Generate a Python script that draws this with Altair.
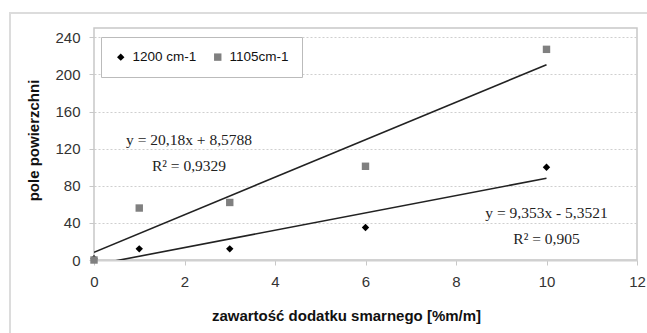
import altair as alt
import pandas as pd

# ---- data ----
x_vals = [0, 1, 3, 6, 10]
y_1200 = [1.3, 12, 12, 35, 100]
y_1105 = [0, 56, 62, 101, 227]
series = ["1200 cm-1", "1105cm-1"]

x_ticks = [0, 2, 4, 6, 8, 10, 12]
y_ticks = [0, 40, 80, 120, 160, 200, 240]

eq_text = ["y = 20,18x + 8,5788", "R² = 0,9329", "y = 9,353x - 5,3521", "R² = 0,905"]
eq_x = [2.1, 2.1, 10.0, 10.0]
eq_y = [129, 101, 51, 23]

rows = []
for name, ys in zip(series, [y_1200, y_1105]):
    for xv, yv in zip(x_vals, ys):
        rows.append({"x": xv, "y": yv, "series": name})
df = pd.DataFrame(rows)
ann = pd.DataFrame({"text": eq_text, "x": eq_x, "y": eq_y})

xscale = alt.Scale(domain=[0, 12], nice=False, zero=False)
yscale = alt.Scale(domain=[0, 250], nice=False)

xenc = alt.X("x:Q", scale=xscale, title="zawartość dodatku smarnego [%m/m]",
             axis=alt.Axis(values=x_ticks, grid=False, tickSize=5, tickColor="#c8c8c8",
                           domainColor="#d0d0d0", domainWidth=2, labelPadding=9,
                           titlePadding=19, titleX=252, titleAlign="center",
                           labelFontSize=15, labelColor="#333333",
                           labelOverlap=False, labelFlush=False,
                           titleFontSize=15, titleFontWeight="bold", titleColor="#111111",
                           labelFont="Liberation Sans", titleFont="Liberation Sans"))
yenc = alt.Y("y:Q", scale=yscale, title="pole powierzchni",
             axis=alt.Axis(values=y_ticks, grid=True, gridColor="#cfcfcf", gridDash=[2, 2],
                           tickSize=5, tickColor="#c8c8c8", domain=False, labelPadding=9,
                           titlePadding=13, titleY=112, titleAlign="center",
                           labelFontSize=15, labelColor="#333333",
                           labelOverlap=False, labelFlush=False,
                           titleFontSize=15, titleFontWeight="bold", titleColor="#111111",
                           labelFont="Liberation Sans", titleFont="Liberation Sans"))

frame = alt.Chart(pd.DataFrame({"d": [0]})).mark_rect(
    fillOpacity=0, stroke="#dcdcdc", strokeWidth=2
).encode(x=alt.value(-84), x2=alt.value(570), y=alt.value(-15), y2=alt.value(320))

lines = alt.Chart(df).transform_regression(
    "x", "y", groupby=["series"], extent=[0, 10]
).mark_line(color="#222222", strokeWidth=1.6, clip=True).encode(
    x=xenc, y=yenc, detail="series:N"
)

legend = alt.Legend(title=None, orient="none", legendX=7, legendY=9,
                    direction="horizontal", strokeColor="#bbbbbb",
                    fillColor="white", padding=13, columnPadding=14,
                    labelFontSize=13.5, labelFont="Liberation Sans",
                    labelColor="#111111", symbolSize=55, labelOffset=5)

points = alt.Chart(df).mark_point(filled=True, size=55, opacity=1).encode(
    x=xenc, y=yenc,
    shape=alt.Shape("series:N", scale=alt.Scale(domain=series, range=["diamond", "square"]),
                    legend=legend),
    color=alt.Color("series:N", scale=alt.Scale(domain=series, range=["#000000", "#808080"]),
                    legend=legend),
    order=alt.Order("series:N", sort="descending"),
)

texts = alt.Chart(ann).mark_text(font="Liberation Serif", fontSize=15.5, color="#222222",
                                 align="center", baseline="middle").encode(
    x=xenc, y=yenc, text="text:N"
)

chart = alt.layer(frame, lines, points, texts).properties(
    width=543, height=232,
    padding={"left": 94, "top": 28, "right": 10, "bottom": 73},
    autosize=alt.AutoSizeParams(type="none"),
    background="white",
).configure_view(stroke="#c8c8c8", strokeWidth=1.5)

chart.save("out.html", embed_options={"renderer": "svg", "actions": False})
